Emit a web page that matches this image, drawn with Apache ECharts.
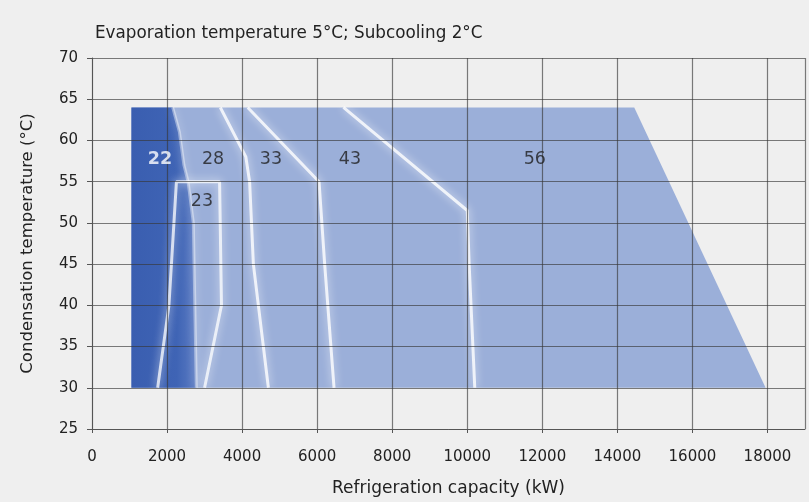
<!DOCTYPE html>
<html><head><meta charset="utf-8">
<script src="https://cdn.jsdelivr.net/npm/echarts@6/dist/echarts.min.js"></script>
<style>html,body{margin:0;padding:0;background:#efefef}#c{width:809px;height:502px}</style>
</head><body><div id="c"></div>
<script>
// ---- data ----
const titleText = 'Evaporation temperature 5°C; Subcooling 2°C';
const xAxisName = 'Refrigeration capacity (kW)';
const yAxisName = 'Condensation temperature (°C)';
const xRange = [0, 19000];
const yRange = [25, 70];
// overall application envelope (model 56 limits)
const envelope = [[1050,30],[1050,64],[14450,64],[17950,30]];
// darker area of the smallest model (22)
const model22Area = [[1050,30],[1050,64],[2150,64],[2330,61],[2450,57],[2560,55],[2700,50],[2780,30]];
// white boundary lines between models
const line22 = [[2150,64],[2330,61],[2450,57],[2560,55],[2700,50],[2780,30]];
const line23 = [[1750,30],[2050,40],[2250,55],[3400,55],[3450,40],[3000,30]];
const line28 = [[3420,64],[4100,58],[4200,55],[4300,45],[4700,30]];
const line33 = [[4150,64],[6050,55],[6200,45],[6450,30]];
const line43 = [[6700,64],[10000,51.5],[10050,45],[10200,30]];
// model labels: [x, y, text]
const regionLabels = [[1810,57.7,'22'],[3225,57.7,'28'],[4770,57.7,'33'],[6875,57.7,'43'],[11800,57.7,'56'],[2930,52.6,'23']];

const FONT = 'DejaVu Sans';
const chart = echarts.init(document.getElementById('c'), null, {renderer:'canvas'});

function polygonSeries(points, fill) {
  return {
    type: 'custom', coordinateSystem: 'cartesian2d', silent: true, z: 1,
    data: points,
    renderItem(params, api) {
      if (params.dataIndex !== 0) return null;
      return { type: 'polygon', shape: { points: points.map(p => api.coord(p)) }, style: { fill: fill } };
    }
  };
}
function boundary(points, opacity) {
  return {
    type: 'line', data: points, symbol: 'none', silent: true, z: 2,
    lineStyle: { color: 'rgba(255,255,255,' + opacity + ')', width: 3, shadowBlur: 8, shadowColor: 'rgba(255,255,255,0.95)' }
  };
}

const option = {
  backgroundColor: '#efefef',
  animation: false,
  title: { text: titleText, left: 90, top: 20, textStyle: { fontFamily: FONT, fontSize: 16.8, fontWeight: 'normal', color: '#222' } },
  grid: { left: 92, right: 4, top: 58, bottom: 72, containLabel: false },
  xAxis: {
    type: 'value', min: xRange[0], max: xRange[1], interval: 2000, z: 5,
    name: xAxisName, nameLocation: 'middle', nameGap: 51,
    nameTextStyle: { fontFamily: FONT, fontSize: 17, color: '#222' },
    axisLine: { show: true, lineStyle: { color: '#555', width: 1 } },
    axisTick: { show: true, length: 4, lineStyle: { color: '#555' } },
    axisLabel: { fontFamily: FONT, fontSize: 15, color: '#222', margin: 21, showMaxLabel: false, formatter: v => String(v) },
    splitLine: { show: true, lineStyle: { color: 'rgba(55,55,55,0.65)', width: 1.2 } }
  },
  yAxis: {
    type: 'value', min: yRange[0], max: yRange[1], interval: 5, z: 5,
    name: yAxisName, nameLocation: 'middle', nameGap: 56, nameRotate: 90,
    nameTextStyle: { fontFamily: FONT, fontSize: 16.5, color: '#222' },
    axisLine: { show: true, lineStyle: { color: '#555', width: 1 } },
    axisTick: { show: true, length: 5, lineStyle: { color: '#555' } },
    axisLabel: { fontFamily: FONT, fontSize: 15, color: '#222', margin: 14 },
    splitLine: { show: true, lineStyle: { color: 'rgba(55,55,55,0.65)', width: 1.2 } }
  },
  series: [
    polygonSeries(envelope, '#9bafd9'),
    polygonSeries(model22Area, new echarts.graphic.LinearGradient(0, 0, 1, 0, [
      { offset: 0, color: '#3a5eb0' }, { offset: 0.7, color: '#3f64b5' }, { offset: 1, color: '#5c7cc3' }])),
    boundary(line22, 0.4),
    boundary(line23, 0.75),
    boundary(line28, 0.8),
    boundary(line33, 0.8),
    boundary(line43, 0.8),
    {
      type: 'scatter', silent: true, z: 6, symbolSize: 0,
      data: regionLabels.map(d => ({ value: [d[0], d[1]], name: d[2] })),
      label: {
        show: true, position: 'inside', formatter: p => p.name,
        fontFamily: FONT, fontSize: 17.5,
        color: '#1e1e1e'
      }
    }
  ]
};
// model 22 label in white
option.series[option.series.length - 1].data[0].label = { color: '#ffffff', fontWeight: 'bold' };
chart.setOption(option);
</script>
</body></html>
